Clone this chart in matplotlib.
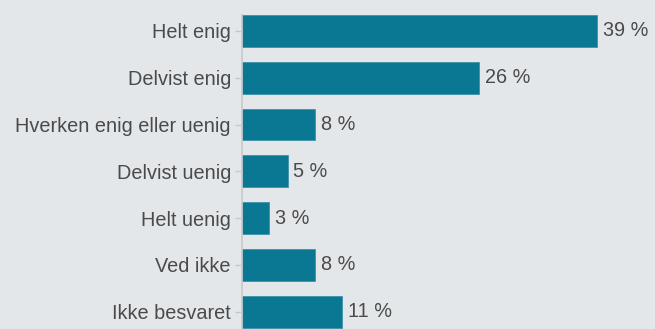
import matplotlib
matplotlib.use("Agg")
import matplotlib.pyplot as plt

categories = ["Helt enig", "Delvist enig", "Hverken enig eller uenig",
              "Delvist uenig", "Helt uenig", "Ved ikke", "Ikke besvaret"]
values = [39, 26, 8, 5, 3, 8, 11]
value_labels = ["39 %", "26 %", "8 %", "5 %", "3 %", "8 %", "11 %"]

bg = "#e4e7ea"
bar_color = "#0b7893"
text_color = "#4a4a4a"

plt.rcParams["font.family"] = ["Liberation Sans", "DejaVu Sans"]

W, H = 655, 329
fig = plt.figure(figsize=(W / 100, H / 100), dpi=100, facecolor=bg)
ax = fig.add_axes([242 / W, 0, (W - 242) / W, (H - 15) / H], facecolor=bg)

ypos = list(range(len(categories)))
ax.barh(ypos, values, height=0.68, color=bar_color, edgecolor="#3c93a8", linewidth=0.6)

for y, v, lab in zip(ypos, values, value_labels):
    ax.text(v + 0.65, y, lab, va="center", ha="left", fontsize=14.3, color=text_color)

ax.set_yticks(ypos)
ax.set_yticklabels(categories, fontsize=14.3, color=text_color)
ax.set_ylim(6.37, -0.342)
ax.set_xlim(0, (W - 242) / 9.1)
ax.set_xticks([])

for s in ["top", "right", "bottom"]:
    ax.spines[s].set_visible(False)
ax.spines["left"].set_color("#c5c9cd")
ax.spines["left"].set_linewidth(1.2)
ax.tick_params(axis="y", length=5, width=1, color="#c5c9cd", pad=3)

fig.savefig("out.png", dpi=100, facecolor=bg)
